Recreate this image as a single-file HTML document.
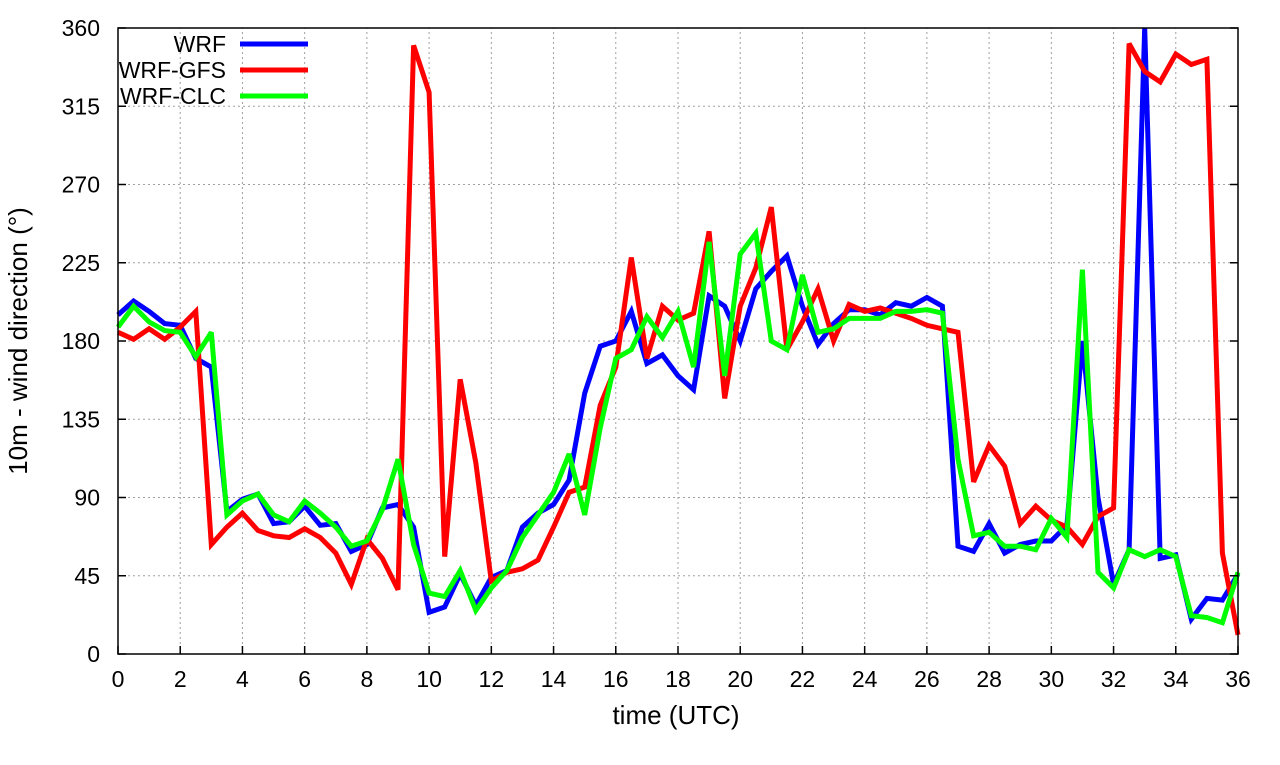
<!DOCTYPE html>
<html><head><meta charset="utf-8"><style>
body{margin:0;background:#fff;}
svg text{font-family:"Liberation Sans",sans-serif;fill:#000;}
</style></head><body>
<svg id="chart" width="1280" height="760" xmlns="http://www.w3.org/2000/svg">
<g id="grid"></g>
<g id="series"></g>
<rect x="118" y="28" width="1120" height="626" fill="none" stroke="#000" stroke-width="1.5"/>
<g id="axes"></g>
<text x="676" y="724" font-size="26" text-anchor="middle">time (UTC)</text>
<text transform="translate(27,341) rotate(-90)" font-size="26" text-anchor="middle">10m - wind direction (°)</text>
<g id="legend"></g>
</svg>
<script>
const times = [];
for (let i = 0; i <= 72; i++) times.push(i * 0.5);
const wrf = [195,203,197,190,189,170,165,82,89,92,75,76,85,74,75,59,63,84,86,73,24,27,46,28,44,48,73,81,86,100,150,177,180,197,167,172,160,152,206,200,180,210,220,229,200,178,190,198,198,195,202,200,205,200,62,59,75,58,63,65,65,74,180,90,40,60,360,55,57,20,32,31,46];
const wrfGfs = [185,181,187,181,188,197,63,73,81,71,68,67,72,67,58,40,66,55,37,350,323,56,158,110,42,47,49,54,73,93,96,143,165,228,170,200,192,196,243,147,200,222,257,175,191,210,180,201,197,199,196,193,189,187,185,99,120,108,75,85,77,73,63,79,84,351,335,329,345,339,342,58,11];
const wrfClc = [188,200,191,186,185,171,185,80,88,92,80,76,88,81,73,62,65,83,112,63,35,33,48,25,38,48,67,80,93,115,80,130,170,175,194,182,197,165,237,160,230,242,180,175,218,185,187,193,193,193,197,197,198,196,112,68,70,62,62,60,78,67,221,47,38,60,56,60,56,22,21,18,47];
const xTicks = [0,2,4,6,8,10,12,14,16,18,20,22,24,26,28,30,32,34,36];
const yTicks = [0,45,90,135,180,225,270,315,360];
const seriesNames = ["WRF","WRF-GFS","WRF-CLC"];
const seriesColors = ["#0000ff","#ff0000","#00ff00"];

const X0=118,X1=1238,Y0=654,Y1=28;
const xs = t => X0 + (t/36)*(X1-X0);
const ys = v => Y0 - (v/360)*(Y0-Y1);
const NS="http://www.w3.org/2000/svg";
const mk=(tag,attrs,parent)=>{const e=document.createElementNS(NS,tag);for(const k in attrs)e.setAttribute(k,attrs[k]);parent.appendChild(e);return e;};
const grid=document.getElementById('grid'), axes=document.getElementById('axes');
xTicks.forEach(t=>{
  const g=mk('line',{x1:xs(t),x2:xs(t),y1:Y0,y2:Y1,stroke:'#a0a0a0','stroke-width':1,'stroke-dasharray':'2,3'},grid);
  
  
  const tk=mk('line',{x1:xs(t),x2:xs(t),y1:Y0,y2:Y0-8,stroke:'#000','stroke-width':1.5},axes);
  
  
  const tx=mk('text',{x:xs(t),y:687,'font-size':23,'text-anchor':'middle'},axes);
  tx.textContent=t;
  
  
});
yTicks.forEach(v=>{
  const g=mk('line',{x1:X0,x2:X1,y1:ys(v),y2:ys(v),stroke:'#a0a0a0','stroke-width':1,'stroke-dasharray':'2,3'},grid);
  
  
  const tk=mk('line',{x1:X0,x2:X0+8,y1:ys(v),y2:ys(v),stroke:'#000','stroke-width':1.5},axes);
  
  
  const tk2=mk('line',{x1:X1,x2:X1-8,y1:ys(v),y2:ys(v),stroke:'#000','stroke-width':1.5},axes);
  
  
  const tx=mk('text',{x:100,y:ys(v)+8,'font-size':23,'text-anchor':'end'},axes);
  tx.textContent=v;
  
  
});
const ser=document.getElementById('series');
[wrf,wrfGfs,wrfClc].forEach((arr,si)=>{
  const pts=arr.map((v,i)=>xs(times[i]).toFixed(1)+','+ys(v).toFixed(1)).join(' ');
  const p=mk('polyline',{points:pts,fill:'none',stroke:seriesColors[si],'stroke-width':5,'stroke-linejoin':'miter','stroke-miterlimit':3},ser);
  
  
});
const leg=document.getElementById('legend');
seriesNames.forEach((n,i)=>{
  const y=44+i*26;
  const t=mk('text',{x:226,y:y+8,'font-size':23,'text-anchor':'end'},leg);
  t.textContent=n;
  
  
  const l=mk('line',{x1:240,x2:308,y1:y,y2:y,stroke:seriesColors[i],'stroke-width':5},leg);
  
  
});
</script>
</body></html>
